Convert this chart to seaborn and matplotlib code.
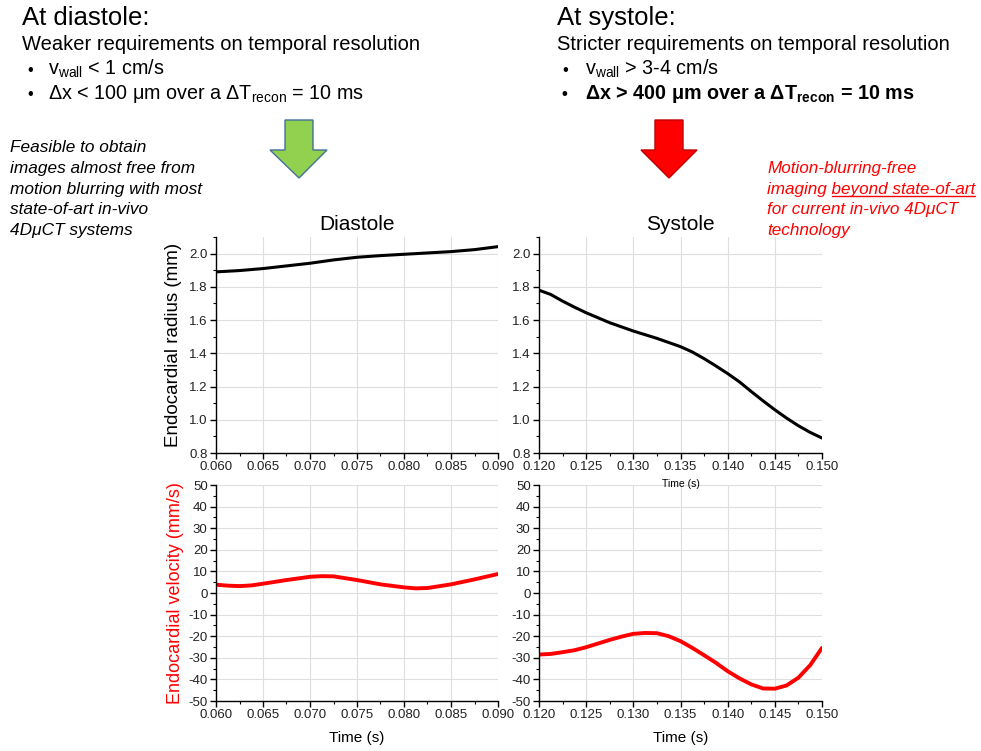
import matplotlib
matplotlib.use("Agg")
import matplotlib.pyplot as plt
import pandas as pd
import seaborn as sns
from matplotlib.patches import Polygon
from matplotlib.ticker import MultipleLocator, AutoMinorLocator, FormatStrFormatter

# Values
dia_r_time = [0.0600, 0.0625, 0.0650, 0.0675, 0.0700, 0.0725, 0.0750,
              0.0775, 0.0800, 0.0825, 0.0850, 0.0875, 0.0900]
dia_radius = [1.890, 1.898, 1.910, 1.926, 1.942, 1.962, 1.978,
              1.988, 1.996, 2.004, 2.012, 2.024, 2.042]

dia_v_time = [0.06000, 0.06125, 0.06250, 0.06375, 0.06500, 0.06750, 0.07000,
              0.07125, 0.07250, 0.07500, 0.07750, 0.08000, 0.08125, 0.08250,
              0.08500, 0.08750, 0.09000]
dia_velocity = [3.85, 3.4, 3.2, 3.5, 4.3, 6.0, 7.5,
                7.8, 7.7, 6.0, 4.0, 2.6, 2.15, 2.3,
                4.0, 6.3, 8.8]

sys_r_time = [0.12000, 0.12125, 0.12250, 0.12375, 0.12500, 0.12750, 0.13000,
              0.13250, 0.13500, 0.13625, 0.13750, 0.13875, 0.14000, 0.14125,
              0.14250, 0.14375, 0.14500, 0.14625, 0.14750, 0.14875, 0.15000]
sys_radius = [1.780, 1.754, 1.714, 1.678, 1.644, 1.584, 1.534,
              1.490, 1.440, 1.408, 1.368, 1.324, 1.278, 1.228,
              1.170, 1.114, 1.060, 1.010, 0.964, 0.924, 0.890]

sys_v_time = [0.12000, 0.12125, 0.12250, 0.12375, 0.12500, 0.12625, 0.12750,
              0.12875, 0.13000, 0.13125, 0.13250, 0.13375, 0.13500, 0.13625,
              0.13750, 0.13875, 0.14000, 0.14125, 0.14250, 0.14375, 0.14500,
              0.14625, 0.14750, 0.14875, 0.15000]
sys_velocity = [-28.5, -28.2, -27.4, -26.5, -25.1, -23.4, -21.7,
                -20.2, -18.9, -18.5, -18.6, -20.0, -22.3, -25.4,
                -28.8, -32.3, -36.2, -39.5, -42.3, -44.2, -44.3,
                -42.8, -39.2, -33.4, -25.4]

dia_r = pd.DataFrame({"t": dia_r_time, "y": dia_radius})
dia_v = pd.DataFrame({"t": dia_v_time, "y": dia_velocity})
sys_r = pd.DataFrame({"t": sys_r_time, "y": sys_radius})
sys_v = pd.DataFrame({"t": sys_v_time, "y": sys_velocity})

sns.set_theme(style="white")
plt.rcParams["font.family"] = ["Liberation Sans", "DejaVu Sans"]
plt.rcParams["text.color"] = "black"
plt.rcParams["axes.labelcolor"] = "black"
plt.rcParams["axes.unicode_minus"] = False
plt.rcParams["mathtext.fontset"] = "custom"
plt.rcParams["mathtext.rm"] = "Liberation Sans"
plt.rcParams["mathtext.it"] = "Liberation Sans:italic"
plt.rcParams["mathtext.bf"] = "Liberation Sans:bold"

W, H = 981, 751
fig = plt.figure(figsize=(W / 100, H / 100), dpi=100)


def fx(x):
    return x / W


def fy(y):
    return 1 - y / H


def make_axes(x0, x1, y0, y1):
    return fig.add_axes([fx(x0), fy(y1), (x1 - x0) / W, (y1 - y0) / H])


def style(ax, xlim, ylim, ystep):
    ax.set_facecolor("none")
    ax.set_xlim(xlim)
    ax.set_ylim(ylim)
    ax.xaxis.set_major_locator(MultipleLocator(0.005))
    ax.xaxis.set_major_formatter(FormatStrFormatter("%.3f"))
    ax.xaxis.set_minor_locator(AutoMinorLocator(2))
    ax.yaxis.set_major_locator(MultipleLocator(ystep))
    ax.yaxis.set_minor_locator(AutoMinorLocator(2))
    if ystep < 1:
        ax.yaxis.set_major_formatter(FormatStrFormatter("%.1f"))
    ax.grid(True, which="major", color="#dedede", lw=0.8)
    ax.set_axisbelow(True)
    for s in ["top", "right"]:
        ax.spines[s].set_visible(False)
    for s in ["left", "bottom"]:
        ax.spines[s].set_color("black")
        ax.spines[s].set_linewidth(1.0)
    ax.tick_params(which="both", direction="out", left=True, bottom=True,
                   color="black", labelsize=9.5, labelcolor="#222222", pad=2)
    ax.tick_params(which="major", length=4, width=1)
    ax.tick_params(which="minor", length=2.5, width=0.8)
    ax.set_xlabel("")
    ax.set_ylabel("")


ax1 = make_axes(216, 498, 237, 453)
ax2 = make_axes(539, 822, 237, 453)
ax3 = make_axes(216, 498, 485, 701)
ax4 = make_axes(539, 822, 485, 701)
ax2.set_zorder(5)

sns.lineplot(data=dia_r, x="t", y="y", ax=ax1, color="black", lw=2.2, sort=False, estimator=None)
sns.lineplot(data=sys_r, x="t", y="y", ax=ax2, color="black", lw=2.2, sort=False, estimator=None)
sns.lineplot(data=dia_v, x="t", y="y", ax=ax3, color="red", lw=2.8, sort=False, estimator=None)
sns.lineplot(data=sys_v, x="t", y="y", ax=ax4, color="red", lw=2.8, sort=False, estimator=None)

style(ax1, (0.060, 0.090), (0.8, 2.1), 0.2)
style(ax2, (0.120, 0.150), (0.8, 2.1), 0.2)
style(ax3, (0.060, 0.090), (-50, 50), 10)
style(ax4, (0.120, 0.150), (-50, 50), 10)

ax1.set_title("Diastole", fontsize=15, pad=5)
ax2.set_title("Systole", fontsize=15, pad=5)
ax1.set_ylabel("Endocardial radius (mm)", fontsize=13.5, labelpad=5)
ax3.set_ylabel("Endocardial velocity (mm/s)", fontsize=13, color="red", labelpad=3)
ax2.set_xlabel("Time (s)", fontsize=7.5, labelpad=4)
ax3.set_xlabel("Time (s)", fontsize=11, labelpad=7)
ax4.set_xlabel("Time (s)", fontsize=11, labelpad=7)

# header text
fig.text(fx(22), fy(25), "At diastole:", fontsize=18.5, va="baseline")
fig.text(fx(22), fy(50), "Weaker requirements on temporal resolution", fontsize=14.5, va="baseline")
fig.text(fx(27), fy(75), "•", fontsize=12, va="baseline")
fig.text(fx(48), fy(75), r"v$_{\mathrm{wall}}$ < 1 cm/s", fontsize=14.2, va="baseline")
fig.text(fx(27), fy(99), "•", fontsize=12, va="baseline")
fig.text(fx(48), fy(99), r"Δx < 100 μm over a ΔT$_{\mathrm{recon}}$ = 10 ms", fontsize=14.2, va="baseline")

fig.text(fx(557), fy(25), "At systole:", fontsize=18.5, va="baseline")
fig.text(fx(557), fy(50), "Stricter requirements on temporal resolution", fontsize=14.5, va="baseline")
fig.text(fx(562), fy(75), "•", fontsize=12, va="baseline")
fig.text(fx(585), fy(75), r"v$_{\mathrm{wall}}$ > 3-4 cm/s", fontsize=14.2, va="baseline")
fig.text(fx(562), fy(99), "•", fontsize=12, va="baseline", fontweight="bold")
fig.text(fx(585), fy(99), r"Δx > 400 μm over a ΔT$_{\mathbf{recon}}$ = 10 ms", fontsize=14.2,
         va="baseline", fontweight="bold")

# arrows
green = [(285, 120), (313, 120), (313, 150), (327, 150), (299, 178), (270, 150), (285, 150)]
red = [(655, 120), (683, 120), (683, 150), (697, 150), (669, 178), (641, 150), (655, 150)]
fig.patches.append(Polygon([(fx(x), fy(y)) for x, y in green], closed=True, transform=fig.transFigure,
                           facecolor="#92D050", edgecolor="#41719C", lw=1.0))
fig.patches.append(Polygon([(fx(x), fy(y)) for x, y in red], closed=True, transform=fig.transFigure,
                           facecolor="#FF0000", edgecolor="#C00000", lw=1.0))

# side notes
left_lines = ["Feasible to obtain", "images almost free from", "motion blurring with most",
              "state-of-art in-vivo", "4DμCT systems"]
for i, s in enumerate(left_lines):
    fig.text(fx(10), fy(152 + i * 20.8), s, fontsize=12.4, style="italic", va="baseline")

right_lines = ["Motion-blurring-free", "imaging beyond state-of-art",
               "for current in-vivo 4DμCT", "technology"]
right_texts = []
for i, s in enumerate(right_lines):
    t = fig.text(fx(767), fy(173 + i * 20.7), s, fontsize=12.3, style="italic", va="baseline", color="red")
    right_texts.append(t)

# underline "beyond state-of-art"
fig.canvas.draw()
renderer = fig.canvas.get_renderer()
full = right_texts[1].get_window_extent(renderer)
probe = fig.text(0, 0, "beyond state-of-art", fontsize=12.3, style="italic")
part = probe.get_window_extent(renderer)
probe.remove()
x_end = full.x1
x_start = full.x1 - part.width
y_line = fy(173 + 20.7) * H - 2.5
fig.add_artist(plt.Line2D([x_start / W, x_end / W], [y_line / H, y_line / H],
                          transform=fig.transFigure, color="red", lw=1.0))

fig.savefig("out.png", dpi=100)
